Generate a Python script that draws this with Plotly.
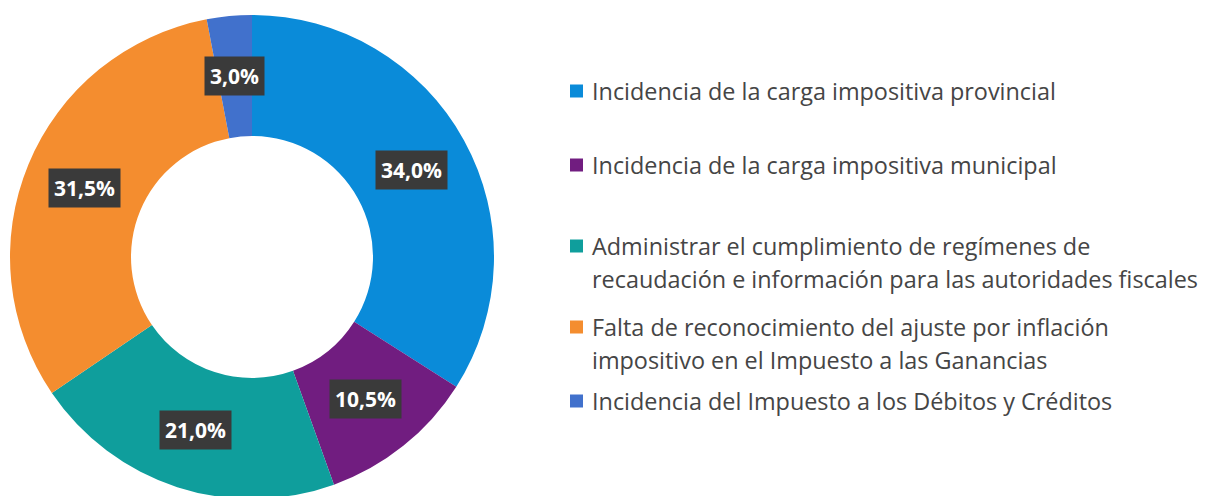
import math
import plotly.graph_objects as go

LABELS = [
    "Incidencia de la carga impositiva provincial",
    "Incidencia de la carga impositiva municipal",
    "Administrar el cumplimiento de regímenes de<br>recaudación e información para las autoridades fiscales",
    "Falta de reconocimiento del ajuste por inflación<br>impositivo en el Impuesto a las Ganancias",
    "Incidencia del Impuesto a los Débitos y Créditos",
]
VALUES = [34.0, 10.5, 21.0, 31.5, 3.0]
COLORS = ["#0A8BD9", "#711D80", "#0F9E9C", "#F48D2F", "#4171CC"]

W, H = 1206, 496
# pie geometry (pixels, figure coordinates)
PIE_X0, PIE_X1 = 2, 486
PIE_Y0, PIE_Y1 = 5 / H, 489 / H
HOLE = 0.5

# legend layout (pixels from top of figure)
LEG_X = 562
LEG_Y = [83, 157, 238, 319, 393]
LINE_GAP = 33

fig = go.Figure()
fig.add_trace(go.Pie(
    labels=[l.replace("<br>", " ") for l in LABELS],
    values=VALUES,
    marker=dict(colors=COLORS, line=dict(width=0)),
    hole=HOLE,
    sort=False,
    direction="clockwise",
    rotation=0,
    textinfo="none",
    domain=dict(x=[PIE_X0 / W, PIE_X1 / W], y=[PIE_Y0, PIE_Y1]),
    hovertemplate="<b>%{label}</b><br>%{value:.1f}%<extra></extra>",
    showlegend=False,
))

# percentage labels in dark boxes, at the middle of each ring segment
radius = min(PIE_X1 - PIE_X0, (PIE_Y1 - PIE_Y0) * H) / 2
cx = (PIE_X0 + PIE_X1) / 2
cy = (PIE_Y0 + PIE_Y1) / 2 * H
r_mid = radius * (1 + HOLE) / 2
total = sum(VALUES)
cum = 0
for v in VALUES:
    theta = 2 * math.pi * (cum + v / 2) / total
    cum += v
    x = cx + r_mid * math.sin(theta)
    y = cy + r_mid * math.cos(theta)
    fig.add_annotation(
        x=x / W, y=y / H, xref="paper", yref="paper",
        xanchor="center", yanchor="middle",
        text=f"<b>{v:.1f}%</b>".replace(".", ","),
        showarrow=False,
        font=dict(family="Open Sans", size=21, color="white"),
        bgcolor="#3a3a3a", borderpad=5,
    )

# legend
for lab, col, ly in zip(LABELS, COLORS, LEG_Y):
    fig.add_shape(
        type="rect", xref="paper", yref="paper",
        x0=LEG_X / W, x1=(LEG_X + 13) / W,
        y0=1 - (ly + 6.5) / H, y1=1 - (ly - 6.5) / H,
        fillcolor=col, line=dict(width=0),
    )
    for i, line in enumerate(lab.split("<br>")):
        fig.add_annotation(
            x=(LEG_X + 20) / W, y=1 - (ly + i * LINE_GAP) / H,
            xref="paper", yref="paper",
            xanchor="left", yanchor="middle", align="left",
            text=line, showarrow=False,
            font=dict(family="Open Sans", size=23.4, color="#454545"),
        )

fig.update_layout(
    width=W, height=H,
    margin=dict(l=0, r=0, t=0, b=0),
    paper_bgcolor="white",
    plot_bgcolor="white",
    showlegend=False,
)

fig.write_html("out.html")
